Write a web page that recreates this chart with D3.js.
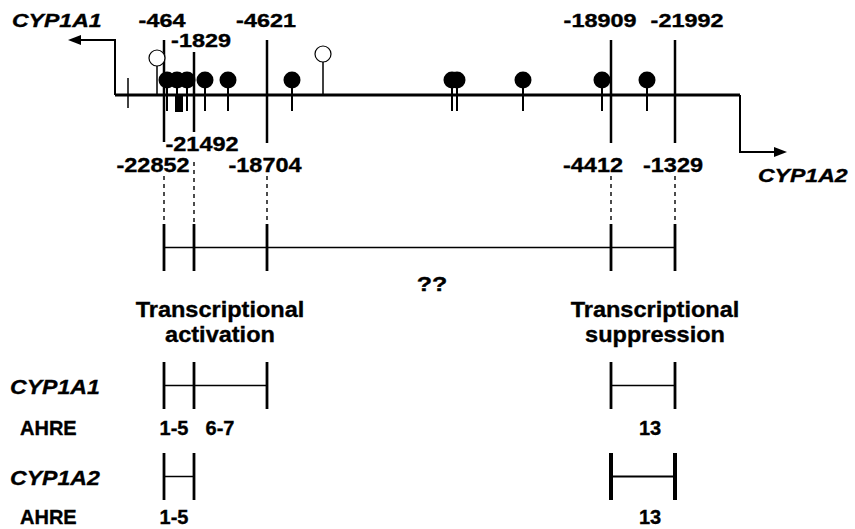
<!DOCTYPE html>
<html>
<head>
<meta charset="utf-8">
<script src="https://cdn.jsdelivr.net/npm/d3@7"></script>
<style>
    body { margin: 0; background: #fff; }
    text { font-family: "Liberation Sans", Arial, sans-serif; font-weight: bold; fill: #000; stroke: #000; stroke-width: 0.35px; }
</style>
</head>
<body>
<svg id="chart" width="855" height="529"></svg>
<script>
// Schematic positions along the intergenic region (0 = CYP1A1 start, 625 = CYP1A2 start)
const boundaryPos = [49, 79, 152, 496, 560];
const upLabels = ["-464", "-1829", "-4621", "-18909", "-21992"];       // from CYP1A1
const upLabelPos = [47, 86, 151, 485, 572];
const downLabels = ["-22852", "-21492", "-18704", "-4412", "-1329"];   // from CYP1A2
const downLabelPos = [38, 87, 150, 478, 558];

// response elements drawn on the locus
const filledSites = [52, 62, 72, 90, 113, 177, 337, 342, 408, 487, 532];
const openSites = [42, 208];
const plainTicks = [13];
const blockSites = [64];

// summary rows: which boundaries bound each bracket
const activationA1 = [0, 1, 2];
const activationA2 = [0, 1];
const suppression = [3, 4];
const ahreA1 = [{ pos: 59, text: "1-5" }, { pos: 105, text: "6-7" }, { pos: 535, text: "13" }];
const ahreA2 = [{ pos: 59, text: "1-5" }, { pos: 535, text: "13" }];
const headers = [
    { pos: 105, lines: ["Transcriptional", "activation"] },
    { pos: 540, lines: ["Transcriptional", "suppression"] }
];

const svg = d3.select("#chart");
const x = d3.scaleLinear().domain([0, 625]).range([115, 740]);
const mainY = 95;

// text helper, some labels in the figure are stretched sideways
function label(g, px, py, str, size, sx, anchor, italic) {
    g.append("text")
        .attr("transform", `translate(${px},${py}) scale(${sx},1)`)
        .attr("text-anchor", anchor || "middle")
        .style("font-size", size + "px")
        .style("font-style", italic ? "italic" : "normal")
        .text(str);
}

// transcription start arrows
svg.append("path")
    .attr("d", `M${x(0)},${mainY} V40 H79`)
    .attr("fill", "none").attr("stroke", "#000").attr("stroke-width", 2);
svg.append("path").attr("d", "M68,40 L81,35 L81,45 Z").attr("fill", "#000");
svg.append("path")
    .attr("d", `M${x(625)},${mainY} V152 H775`)
    .attr("fill", "none").attr("stroke", "#000").attr("stroke-width", 2);
svg.append("path").attr("d", "M787,152 L774,147 L774,157 Z").attr("fill", "#000");

label(svg, 12, 27, "CYP1A1", 18, 1.28, "start", true);
label(svg, 758, 182, "CYP1A2", 18, 1.28, "start", true);

// locus line
svg.append("line")
    .attr("x1", x(0)).attr("x2", x(625))
    .attr("y1", mainY).attr("y2", mainY)
    .attr("stroke", "#000").attr("stroke-width", 3);

// boundary lines with their labels
const lineTop = [40, 52, 40, 40, 40];
const lineBottom = [142, 132, 143, 143, 143];
const dotTop = [176, 162, 176, 176, 176];

boundaryPos.forEach((p, i) => {
    svg.append("line")
        .attr("x1", x(p)).attr("x2", x(p))
        .attr("y1", lineTop[i]).attr("y2", lineBottom[i])
        .attr("stroke", "#000").attr("stroke-width", 2.5);
    svg.append("line")
        .attr("x1", x(p)).attr("x2", x(p))
        .attr("y1", dotTop[i]).attr("y2", 224)
        .attr("stroke", "#000").attr("stroke-width", 1.4)
        .attr("stroke-dasharray", "4,4");
    label(svg, x(upLabelPos[i]), i == 1 ? 47 : 27, upLabels[i], 18, 1.3);
    label(svg, x(downLabelPos[i]), i == 1 ? 151 : 172, downLabels[i], 21, 1.12);
});

// plain ticks and block
plainTicks.forEach(p => {
    svg.append("line")
        .attr("x1", x(p)).attr("x2", x(p)).attr("y1", 78).attr("y2", 108)
        .attr("stroke", "#000").attr("stroke-width", 1.5);
});
blockSites.forEach(p => {
    svg.append("rect")
        .attr("x", x(p) - 4).attr("y", mainY).attr("width", 8).attr("height", 17)
        .attr("fill", "#000");
});

// open sites
openSites.forEach((p, i) => {
    const cy = i == 0 ? 58 : 54;
    svg.append("line")
        .attr("x1", x(p)).attr("x2", x(p)).attr("y1", cy + 8).attr("y2", mainY)
        .attr("stroke", "#000").attr("stroke-width", 1.5);
    svg.append("circle")
        .attr("cx", x(p)).attr("cy", cy).attr("r", 8)
        .attr("fill", "#fff").attr("stroke", "#000").attr("stroke-width", 1.2);
});

// filled sites
filledSites.forEach(p => {
    svg.append("line")
        .attr("x1", x(p)).attr("x2", x(p)).attr("y1", 80).attr("y2", 111)
        .attr("stroke", "#000").attr("stroke-width", 2);
});
svg.selectAll(".site")
    .data(filledSites)
    .enter().append("circle")
    .attr("class", "site")
    .attr("cx", d => x(d)).attr("cy", 80).attr("r", 8.5)
    .attr("fill", "#000");

// bracket helper
function bracket(idx, yTop, yBot, tickW, lineW) {
    const ps = idx.map(i => boundaryPos[i]);
    const yMid = (yTop + yBot) / 2;
    svg.append("line")
        .attr("x1", x(d3.min(ps))).attr("x2", x(d3.max(ps)))
        .attr("y1", yMid).attr("y2", yMid)
        .attr("stroke", "#000").attr("stroke-width", lineW);
    ps.forEach(p => {
        svg.append("line")
            .attr("x1", x(p)).attr("x2", x(p)).attr("y1", yTop).attr("y2", yBot)
            .attr("stroke", "#000").attr("stroke-width", tickW);
    });
}

// summary bracket over all regions
bracket([0, 1, 2, 3, 4], 224, 271, 2.8, 1.5);
label(svg, 432, 291, "??", 20, 1.25);

headers.forEach(h => {
    label(svg, x(h.pos), 317, h.lines[0], 22, 1.07);
    label(svg, x(h.pos), 342, h.lines[1], 22, 1.07);
});

// CYP1A1 row
label(svg, 10, 394, "CYP1A1", 21, 1.1, "start", true);
bracket(activationA1, 362, 409, 2.8, 1.5);
bracket(suppression, 362, 409, 2.8, 1.5);
label(svg, 20, 435, "AHRE", 20, 1, "start");
ahreA1.forEach(a => label(svg, x(a.pos), 435, a.text, 20, 1));

// CYP1A2 row
label(svg, 10, 485, "CYP1A2", 21, 1.1, "start", true);
bracket(activationA2, 453, 500, 2.8, 1.5);
bracket(suppression, 453, 500, 4, 2);
label(svg, 20, 524, "AHRE", 20, 1, "start");
ahreA2.forEach(a => label(svg, x(a.pos), 524, a.text, 20, 1));
</script>
</body>
</html>
